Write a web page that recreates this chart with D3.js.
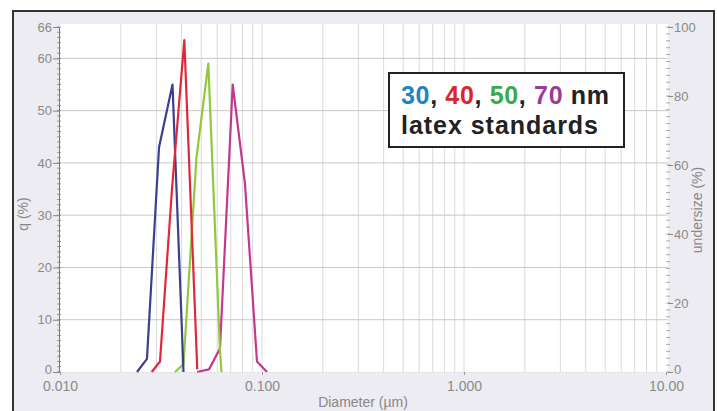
<!DOCTYPE html>
<html>
<head>
<meta charset="utf-8">
<script src="https://cdn.jsdelivr.net/npm/d3@7"></script>
<style>
  body { margin: 0; background: #fff; }
  svg { display: block; }
  .tick text { font-family: "Liberation Sans", Arial, sans-serif; fill: #8a8a8a; }
</style>
</head>
<body>
<svg id="chart" width="717" height="411"></svg>
<script>
// ------------------------------------------------------------------
//  latex standards - particle size distribution
// ------------------------------------------------------------------

// 30 nm
var diam30 = [0.02405, 0.02695, 0.03092, 0.03605, 0.04088];
var q30    = [0, 2.5, 43, 55, 0];
// 40 nm
var diam40 = [0.02844, 0.03126, 0.03585, 0.04125, 0.04782];
var q40    = [0, 2, 35, 63.5, 0.5];
// 50 nm
var diam50 = [0.03710, 0.04088, 0.04738, 0.05423, 0.06194, 0.06300];
var q50    = [0, 1.5, 41, 59, 4, 0];
// 70 nm
var diam70 = [0.04766, 0.05466, 0.06194, 0.07161, 0.08236, 0.09445, 0.10588];
var q70    = [0, 0.5, 4.5, 55, 36, 2, 0];

var xTicks = [0.01, 0.1, 1, 10];
var xTickLabels = ["0.010", "0.100", "1.000", "10.00"];
var leftTicks = [0, 10, 20, 30, 40, 50, 60, 66];
var rightTicks = [0, 20, 40, 60, 80, 100];

var legendParts = ["30", ", ", "40", ", ", "50", ", ", "70", " nm"];
var legendLine2 = "latex standards";

var svg = d3.select("#chart");

var x = d3.scaleLog().domain([0.01, 10]).range([60, 666]);
var y = d3.scaleLinear().domain([0, 66]).range([372, 27]);
var yr = d3.scaleLinear().domain([0, 100]).range([372, 27]);

// 背景と外枠
svg.append("rect")
  .attr("x", 13).attr("y", 11).attr("width", 701).attr("height", 410)
  .attr("fill", "#ececf2").attr("stroke", "#333").attr("stroke-width", 2);

// プロット領域
svg.append("rect")
  .attr("x", x(0.01)).attr("y", 24)
  .attr("width", 668 - x(0.01)).attr("height", y(0) - 24)
  .attr("fill", "#fff");

// グリッド（縦）
var minor = [];
[0.01, 0.1, 1].forEach(function (dec) {
  for (var k = 2; k <= 10; k++) minor.push(dec * k);
});
svg.append("g").selectAll("line")
  .data(minor.filter(function (d) { return d < 10; }))
  .enter().append("line")
  .attr("x1", function (d) { return x(d); })
  .attr("x2", function (d) { return x(d); })
  .attr("y1", 24).attr("y2", y(0))
  .attr("stroke", "#dadada").attr("stroke-width", 1);

// グリッド（横）
svg.append("g").selectAll("line")
  .data([10, 20, 30, 40, 50, 60])
  .enter().append("line")
  .attr("x1", x(0.01)).attr("x2", 668)
  .attr("y1", function (d) { return y(d); })
  .attr("y2", function (d) { return y(d); })
  .attr("stroke", "#c8c8c8").attr("stroke-width", 1);

// 曲線
var line = d3.line()
  .x(function (d) { return x(d[0]); })
  .y(function (d) { return y(d[1]); });

var series = [
  { d: diam70, q: q70, color: "#c2388e" },
  { d: diam50, q: q50, color: "#92c83e" },
  { d: diam30, q: q30, color: "#3b3f8e" },
  { d: diam40, q: q40, color: "#e0283c" }
];
series.forEach(function (s) {
  svg.append("path")
    .datum(d3.zip(s.d, s.q))
    .attr("d", line)
    .attr("fill", "none")
    .attr("stroke", s.color)
    .attr("stroke-width", 2.2)
    .attr("stroke-linejoin", "round");
});

// 左軸
var minorLeft = d3.range(0, 67, 1);
svg.append("g").selectAll("line")
  .data(minorLeft).enter().append("line")
  .attr("x1", 57).attr("x2", 61)
  .attr("y1", function (d) { return y(d); })
  .attr("y2", function (d) { return y(d); })
  .attr("stroke", "#888").attr("stroke-width", 0.8);

var gl = svg.append("g")
  .attr("transform", "translate(59,0)")
  .call(d3.axisLeft(y).tickValues(leftTicks).tickSize(6).tickPadding(1));
gl.select(".domain").attr("stroke", "#777");
gl.selectAll(".tick line").attr("stroke", "#888");
gl.selectAll(".tick text").attr("font-size", 13)
  .attr("dy", function (d) { return d === 0 ? "0.1em" : "0.32em"; });

// 右軸
var minorRight = d3.range(0, 101, 2);
svg.append("g").selectAll("line")
  .data(minorRight).enter().append("line")
  .attr("x1", 666).attr("x2", 670)
  .attr("y1", function (d) { return yr(d); })
  .attr("y2", function (d) { return yr(d); })
  .attr("stroke", "#999").attr("stroke-width", 0.8);

var gr = svg.append("g")
  .attr("transform", "translate(668,0)")
  .call(d3.axisRight(yr).tickValues(rightTicks).tickSize(5).tickPadding(1));
gr.select(".domain").attr("stroke", "none");
gr.selectAll(".tick line").attr("stroke", "#888");
gr.selectAll(".tick text").attr("font-size", 13)
  .attr("dy", function (d) { return d === 0 ? "0.1em" : "0.32em"; });

// 下軸
var gb = svg.append("g")
  .attr("transform", "translate(0," + y(0) + ")")
  .call(d3.axisBottom(x).tickValues(xTicks)
    .tickFormat(function (d, i) { return xTickLabels[i]; })
    .tickSize(3).tickPadding(6));
gb.select(".domain").attr("stroke", "#ccc").attr("stroke-dasharray", "1,3");
gb.selectAll(".tick line").attr("stroke", "#999");
gb.selectAll(".tick text").attr("font-size", 14);

// 軸タイトル
svg.append("text")
  .attr("transform", "translate(28,214) rotate(-90)")
  .attr("text-anchor", "middle")
  .attr("font-family", "Liberation Sans, Arial, sans-serif")
  .attr("font-size", 14).attr("fill", "#888")
  .text("q (%)");

svg.append("text")
  .attr("transform", "translate(702,210) rotate(-90)")
  .attr("text-anchor", "middle")
  .attr("font-family", "Liberation Sans, Arial, sans-serif")
  .attr("font-size", 14).attr("fill", "#888")
  .text("undersize (%)");

svg.append("text")
  .attr("x", 363).attr("y", 407)
  .attr("text-anchor", "middle")
  .attr("font-family", "Liberation Sans, Arial, sans-serif")
  .attr("font-size", 14).attr("fill", "#888")
  .text("Diameter (\u00b5m)");

// 凡例ボックス
svg.append("rect")
  .attr("x", 389).attr("y", 73).attr("width", 235).attr("height", 74)
  .attr("fill", "#fff").attr("stroke", "#222").attr("stroke-width", 2);

var partColors = ["#1b85c8", "#222", "#d9262c", "#222", "#3aaa4a", "#222", "#9b3a9e", "#222"];
var t1 = svg.append("text")
  .attr("x", 401).attr("y", 104)
  .attr("font-family", "Liberation Sans, Arial, sans-serif")
  .attr("font-weight", "bold").attr("font-size", 25)
  .attr("textLength", 208).attr("lengthAdjust", "spacing");
legendParts.forEach(function (p, i) {
  t1.append("tspan").attr("fill", partColors[i]).text(p);
});

svg.append("text")
  .attr("x", 401).attr("y", 134)
  .attr("font-family", "Liberation Sans, Arial, sans-serif")
  .attr("font-weight", "bold").attr("font-size", 25)
  .attr("textLength", 197).attr("lengthAdjust", "spacing")
  .attr("fill", "#222")
  .text(legendLine2);
</script>
</body>
</html>
